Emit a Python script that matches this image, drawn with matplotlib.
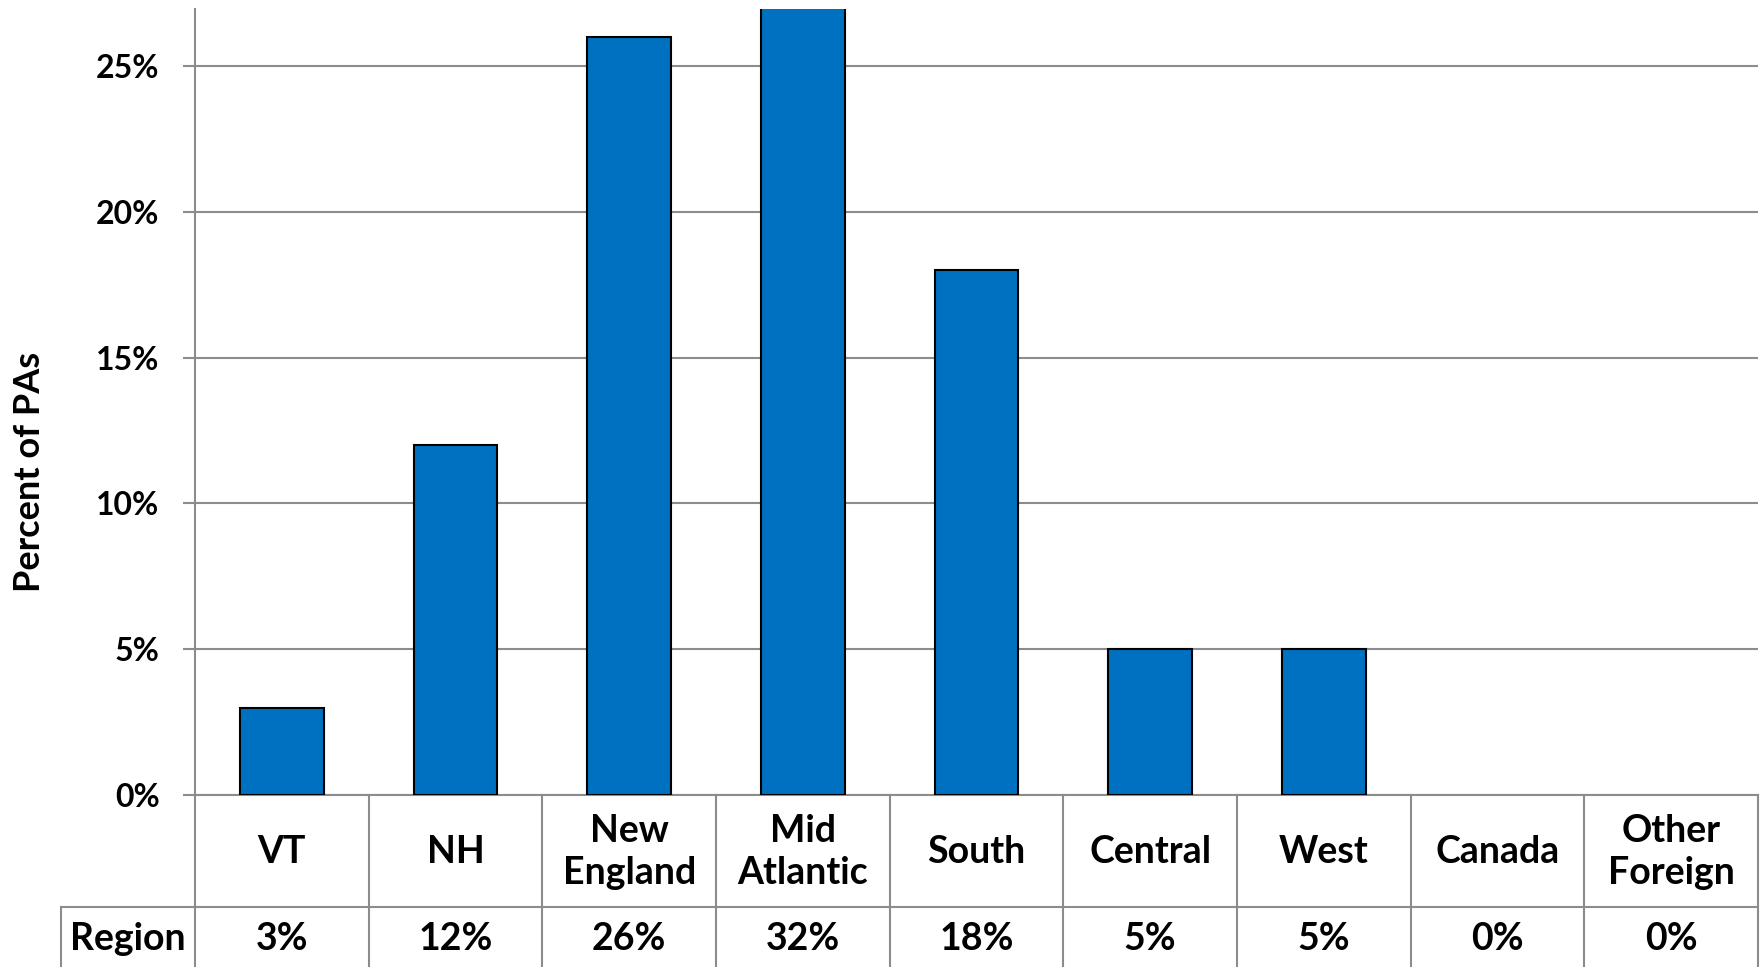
import matplotlib
matplotlib.use("Agg")
import matplotlib.pyplot as plt
import matplotlib.transforms as mtransforms
from matplotlib.lines import Line2D
from matplotlib.ticker import FuncFormatter, MultipleLocator

# data
regions = ["VT", "NH", "New\nEngland", "Mid\nAtlantic", "South",
           "Central", "West", "Canada", "Other\nForeign"]
percent_pas = [3, 12, 26, 32, 18, 5, 5, 0, 0]
row_label = "Region"

BAR_COLOR = "#0070C0"
GRID_COLOR = "#8C8C8C"
W, H = 1763, 967

plt.rcParams["font.family"] = ["Lato", "DejaVu Sans"]
plt.rcParams["font.weight"] = "bold"

fig = plt.figure(figsize=(W / 100, H / 100), dpi=100)
ax = fig.add_axes([195 / W, 1 - 795 / H, (1758 - 195) / W, (795 - 9) / H])

x = list(range(len(regions)))
# zero-height bars leave no mark in the original
shown = [(xi, v) for xi, v in zip(x, percent_pas) if v > 0]
ax.bar([s[0] for s in shown], [s[1] for s in shown], width=0.48,
       color=BAR_COLOR, edgecolor="black", linewidth=1.5, zorder=3)

ax.set_xlim(-0.5, len(regions) - 0.5)
ax.set_ylim(0, 26.95)
ax.yaxis.set_major_locator(MultipleLocator(5))
ax.yaxis.set_major_formatter(FuncFormatter(lambda v, _: f"{v:.0f}%"))
ax.grid(axis="y", color=GRID_COLOR, linewidth=1.5, zorder=0)
ax.set_xticks([])
ax.tick_params(axis="y", length=8.5, width=1.5, color=GRID_COLOR,
               labelsize=23, pad=17)
for lab in ax.get_yticklabels():
    lab.set_fontweight("bold")

for side in ("top", "right"):
    ax.spines[side].set_visible(False)
for side in ("left", "bottom"):
    ax.spines[side].set_color(GRID_COLOR)
    ax.spines[side].set_linewidth(1.5)

fig.text(30 / W, 1 - 472 / H, "Percent of PAs", rotation=90, ha="center",
         va="center", fontsize=26, fontweight="bold")

# data table under the plot
def fy(py):
    return 1 - py / H

def fx(px):
    return px / W

line_kw = dict(color=GRID_COLOR, linewidth=1.5, transform=fig.transFigure)
col_w = (1758 - 195) / len(regions)
for i in range(len(regions) + 1):
    xp = 195 + i * col_w
    fig.add_artist(Line2D([fx(xp), fx(xp)], [fy(795), fy(H + 5)], **line_kw))
fig.add_artist(Line2D([fx(61), fx(1758)], [fy(907), fy(907)], **line_kw))
fig.add_artist(Line2D([fx(61), fx(61)], [fy(907), fy(H + 5)], **line_kw))

trans = mtransforms.blended_transform_factory(ax.transData, fig.transFigure)
for xi, name, val in zip(x, regions, percent_pas):
    ax.text(xi, fy(852), name, transform=trans, ha="center", va="center",
            fontsize=27, fontweight="bold", linespacing=1.3, clip_on=False)
    ax.text(xi, fy(939), f"{val}%", transform=trans, ha="center",
            va="center", fontsize=27, fontweight="bold", clip_on=False)
fig.text(fx(128), fy(939), row_label, ha="center", va="center",
         fontsize=27, fontweight="bold")

fig.savefig("out.png", dpi=100)
